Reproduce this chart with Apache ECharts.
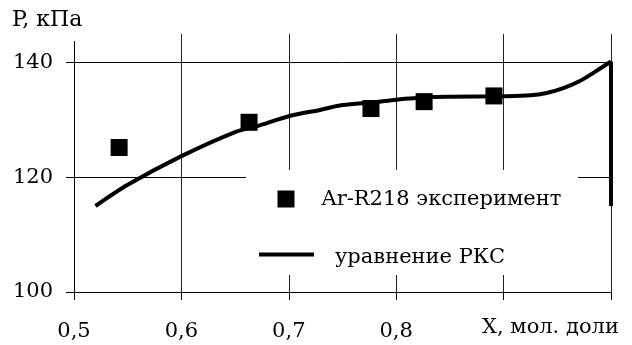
<!DOCTYPE html>
<html>
<head>
<meta charset="utf-8">
<script src="https://cdn.jsdelivr.net/npm/echarts@6/dist/echarts.min.js"></script>
<style>
html,body{margin:0;padding:0;background:#fff;}
#chart{width:632px;height:345px;}
</style>
</head>
<body>
<div id="chart"></div>
<script>
// ---- data ----
var expName = 'Ar-R218 эксперимент';
var eqName = 'уравнение РКС';
var expPoints = [[0.542,125.2],[0.663,129.6],[0.7765,132.0],[0.826,133.2],[0.891,134.2]];
var eqCurve = [[0.52,115.0],[0.55,118.7],[0.60,123.7],[0.65,127.9],[0.67,128.9],[0.70,130.65],
  [0.73,131.8],[0.75,132.6],[0.78,133.1],[0.80,133.55],[0.835,134.0],[0.85,134.05],[0.90,134.15],
  [0.925,134.3],[0.94,134.7],[0.955,135.5],[0.97,136.7],[0.985,138.4],[1.0,140.2]];
var eqDrop = [[1.0,140.2],[1.0,115.0]];
var xLabelValues = [0.5,0.6,0.7,0.8];
var xTickValues = [0.5,0.6,0.7,0.8,0.9,1.0];
var yTickValues = [100,120,140];
var yTitle = 'P, кПа';
var xTitle = 'X, мол. доли';

var FONT = 'DejaVu Serif';
var FS = 21;
var chart = echarts.init(document.getElementById('chart'), null, {renderer:'canvas'});
var vColors = ['#222','#222','#222','#222','#222','#222','#222','#222','#222','#222','#888'];
var hColors = ['#000','#000','#000','#000','#000','#888'];
chart.setOption({
  animation:false,
  backgroundColor:'#fff',
  textStyle:{fontFamily:FONT},
  grid:{left:74,right:21,top:34,bottom:53},
  xAxis:{
    type:'value',min:0.5,max:1.0,interval:0.05,
    axisLine:{lineStyle:{color:'#000',width:1}},
    axisTick:{show:true,length:8,inside:false,customValues:xTickValues,lineStyle:{color:'#000'}},
    axisLabel:{customValues:xLabelValues,margin:29,color:'#000',fontFamily:FONT,fontSize:FS,
      formatter:function(v){return v.toFixed(1).replace('.',',');}},
    splitLine:{show:true,lineStyle:{color:vColors,width:1}}
  },
  yAxis:{
    type:'value',min:100,max:145,interval:10,
    axisLine:{show:true,lineStyle:{color:'#000',width:1}},
    axisTick:{show:true,length:8,inside:false,customValues:yTickValues,lineStyle:{color:'#000'}},
    axisLabel:{customValues:yTickValues,margin:21,color:'#000',fontFamily:FONT,fontSize:FS},
    splitLine:{show:true,lineStyle:{color:hColors,width:1}}
  },
  legend:[{
    data:[{name:expName,icon:'rect'}],left:277.5,top:189.5,padding:0,itemWidth:17,itemHeight:17,
    formatter:function(n){return '{a|'+n+'}';},
    textStyle:{fontFamily:FONT,fontSize:FS,color:'#000',
      rich:{a:{fontFamily:FONT,fontSize:FS,color:'#000',padding:[2,0,0,22]}}}
  },{
    data:[{name:eqName,icon:'rect'}],left:259,top:247,padding:0,itemWidth:55,itemHeight:4,
    formatter:function(n){return '{a|'+n+'}';},
    textStyle:{fontFamily:FONT,fontSize:FS,color:'#000',
      rich:{a:{fontFamily:FONT,fontSize:FS,color:'#000',padding:[6,0,0,16]}}}
  }],
  graphic:[
    {type:'rect',left:246,top:170,shape:{width:332,height:105},style:{fill:'#fff'},z:1,silent:true},
    {type:'rect',left:0,top:0,shape:{width:91,height:41},style:{fill:'#fff'},z:100,silent:true},
    {type:'text',left:12,top:9,style:{text:yTitle,font:'22px "DejaVu Serif"',fill:'#000'},z:101},
    {type:'text',left:482,top:317,style:{text:xTitle,font:'21px "DejaVu Serif"',fill:'#000'},z:101}
  ],
  series:[
    {name:expName,type:'scatter',data:expPoints,symbol:'rect',symbolSize:17,
      itemStyle:{color:'#000',opacity:1},z:5},
    {name:eqName,type:'line',data:eqCurve,smooth:0.3,showSymbol:false,symbol:'none',
      lineStyle:{color:'#000',width:4},itemStyle:{color:'#000'},z:3},
    {name:'drop',type:'line',data:eqDrop,showSymbol:false,symbol:'none',
      lineStyle:{color:'#000',width:4},z:3}
  ]
});
</script>
</body>
</html>
